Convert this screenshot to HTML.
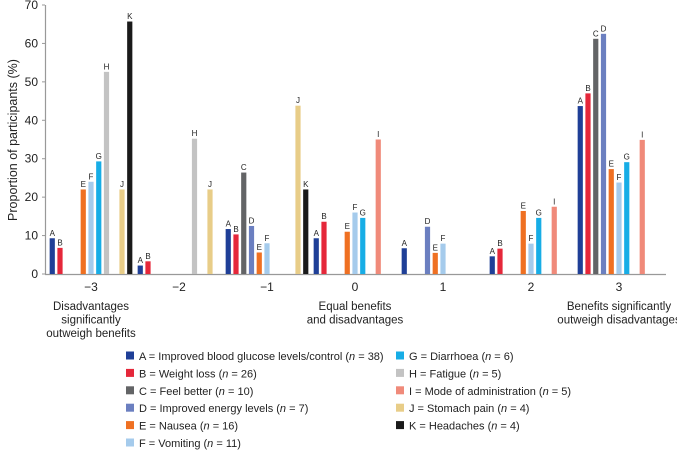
<!DOCTYPE html>
<html><head><meta charset="utf-8"><style>
body{margin:0;background:#fff;font-family:"Liberation Sans",sans-serif;}
svg text{font-family:"Liberation Sans",sans-serif;fill:#222;}
</style></head><body>
<svg id="c" width="677" height="450"></svg>
<script>
const groups=[-3,-2,-1,0,1,2,3];
const groupTickLabels=["−3","−2","−1","0","1","2","3"];
const seriesKeys=["A","B","C","D","E","F","G","H","I","J","K"];
const seriesNames=["Improved blood glucose levels/control","Weight loss","Feel better","Improved energy levels","Nausea","Vomiting","Diarrhoea","Fatigue","Mode of administration","Stomach pain","Headaches"];
const seriesN=[38,26,10,7,16,11,6,5,5,4,4];
const colors=["#1f3f97","#e5273a","#636466","#6b7fc0","#ef7022","#a5cbec","#17ade6","#c3c3c3","#f08a7a","#e8cd88","#1a1a1a"];
// values per group, null = no bar (order A..K)
const vM3=[9.3,6.8,null,null,22,24,29.3,52.6,null,22,65.7];
const vM2=[2.2,3.3,null,null,null,null,null,35.2,null,22,null];
const vM1=[11.7,10.3,26.4,12.5,5.6,8,null,null,null,43.8,22];
const v0=[9.3,13.6,null,null,11,16,14.6,null,35,null,null];
const v1=[6.7,null,null,12.3,5.5,7.9,null,null,null,null,null];
const v2=[4.6,6.6,null,null,16.4,7.9,14.6,null,17.5,null,null];
const v3=[43.7,47,61.2,62.5,27.3,23.8,29.1,null,34.9,null,null];
const values=[vM3,vM2,vM1,v0,v1,v2,v3];
const yTicks=[0,10,20,30,40,50,60,70];

const svg=document.getElementById('c');
const NS="http://www.w3.org/2000/svg";
function el(t,a,p){const e=document.createElementNS(NS,t);for(const k in a)e.setAttribute(k,a[k]);(p||svg).appendChild(e);return e;}
const y0=274,yTop=5,yMax=70;
const y=v=>y0-(v/yMax)*(y0-yTop);
const groupCenter=i=>91+i*88;
const slotX=(i,s)=>groupCenter(i)+(s-5)*7.75;

let a=el('line',{x1:45.5,y1:5,x2:45.5,y2:y0,stroke:'#999','stroke-width':1.2});

a=el('line',{x1:45,y1:y0+0.5,x2:666,y2:y0+0.5,stroke:'#999','stroke-width':1.2});

yTicks.forEach(t=>{
  const l=el('line',{x1:42,x2:45,y1:y(t),y2:y(t),stroke:'#999'});
  
  const tx=el('text',{x:38,y:y(t)+4,'text-anchor':'end','font-size':12});
  tx.textContent=t;
  
});
const yt=el('text',{x:17,y:140,'text-anchor':'middle','font-size':12.5,transform:'rotate(-90 17 140)'});
yt.textContent="Proportion of participants (%)";


groups.forEach((g,i)=>{
  const tx=el('text',{x:groupCenter(i),y:291,'text-anchor':'middle','font-size':12});
  tx.textContent=groupTickLabels[i];
  
  values[i].forEach((v,s)=>{
    if(v===null)return;
    const x=slotX(i,s);
    const r=el('rect',{x:x-2.6,y:y(v),width:5.2,height:y0-y(v),fill:colors[s]});
    
    const lb=el('text',{x:x,y:y(v)-2.5,'text-anchor':'middle','font-size':8});
    lb.textContent=seriesKeys[s];
    
  });
});
function multi(lines,x,yy,name){lines.forEach((t,k)=>{const e=el('text',{x:x,y:yy+k*13.5,'text-anchor':'middle','font-size':11.5});e.textContent=t;});}
multi(["Disadvantages","significantly","outweigh benefits"],91,310,'x-desc-negative');
multi(["Equal benefits","and disadvantages"],355,310,'x-desc-equal');
multi(["Benefits significantly","outweigh disadvantages"],619,310,'x-desc-positive');

seriesKeys.forEach((k,s)=>{
  const col=s<6?0:1, row=s<6?s:s-6;
  const lx=col?400:130, ly=356+row*17.4;
  const r=el('rect',{x:lx-4,y:ly-4.5,width:8,height:8,fill:colors[s]});
  
  const t=el('text',{x:lx+9,y:ly+4,'font-size':11});
  
  t.appendChild(document.createTextNode(k+" = "+seriesNames[s]+" ("));
  const it=el('tspan',{'font-style':'italic'},t);it.textContent='n';
  t.appendChild(document.createTextNode(" = "+seriesN[s]+")"));
});
</script>
</body></html>
